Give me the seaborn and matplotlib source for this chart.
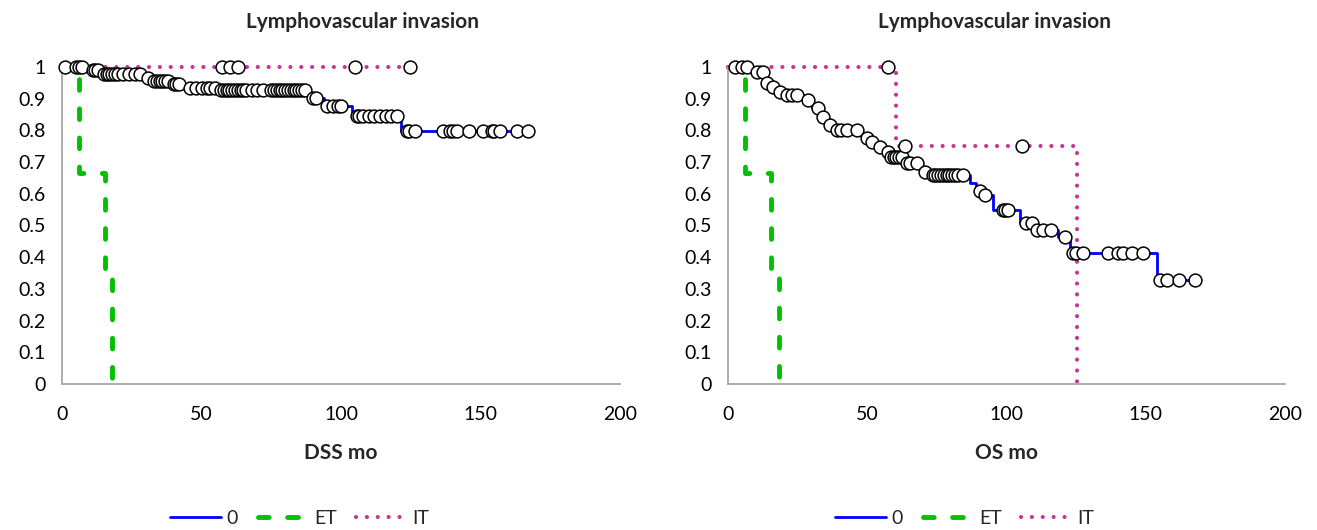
import numpy as np
import pandas as pd
import matplotlib
matplotlib.use("Agg")
import matplotlib.pyplot as plt
import seaborn as sns

# ========= DATOS =========
groups = ["0", "ET", "IT"]
x_ticks = [0, 50, 100, 150, 200]
y_ticks = [0, 0.1, 0.2, 0.3, 0.4, 0.5, 0.6, 0.7, 0.8, 0.9, 1.0]
y_tick_labels = ["0", "0.1", "0.2", "0.3", "0.4", "0.5", "0.6", "0.7", "0.8", "0.9", "1"]
title = "Lymphovascular invasion"

# DSS - step curves (time of drop, new survival) and censored times
dss_0_t = [0, 9, 14, 30, 32.5, 39, 45, 56, 88, 89.5, 94, 104, 121.5, 167.5]
dss_0_s = [1.0, 0.99, 0.977, 0.965, 0.955, 0.945, 0.935, 0.927, 0.915, 0.902, 0.878, 0.845, 0.797, 0.797]
dss_0_cens = [1, 5, 6, 7, 11, 12, 13, 15, 16, 17, 18, 19, 20, 22, 24, 26, 28, 31,
              33, 34, 35, 36, 37, 38, 40, 41, 42, 46, 48, 50, 52, 53, 55, 57, 58, 59,
              60, 61, 62, 63, 64, 65, 66, 68, 70, 72, 75, 76, 77, 78, 79, 80, 81, 82,
              83, 84, 85, 86, 87, 90, 91, 95, 97, 99, 100, 105.7, 106.5, 108, 110,
              112, 114, 116, 118, 120, 123.6, 124.5, 126.5, 136.5, 139, 140, 141.5,
              146, 150.8, 154, 155, 157, 163, 167]
dss_et_t = [0, 6, 15.5, 18, 18]
dss_et_s = [1.0, 0.667, 0.333, 0.0, 0.0]
dss_et_cens = []
dss_it_t = [0, 124.7]
dss_it_s = [1.0, 1.0]
dss_it_cens = [57.3, 60.2, 63, 105, 124.7]

# OS
os_0_t = [0, 9, 13.5, 15.5, 17.5, 20, 27, 30, 33.5, 35.5, 38, 48, 51, 53, 56, 58.5,
          64, 69, 72, 86.9, 89, 91.5, 95, 104.9, 110, 118.4, 122.8, 154, 168]
os_0_s = [1.0, 0.984, 0.95, 0.937, 0.921, 0.912, 0.896, 0.871, 0.842, 0.817, 0.801,
          0.776, 0.763, 0.748, 0.732, 0.716, 0.697, 0.669, 0.659, 0.635, 0.61, 0.596,
          0.549, 0.508, 0.486, 0.464, 0.413, 0.328, 0.328]
os_0_cens = [2.5, 5, 7, 10.4, 12.6, 14, 16.2, 18.7, 21.2, 23, 24.8, 28.7, 32.3, 34.1,
             36.6, 39.1, 40.5, 42.7, 46.3, 49.9, 51.7, 54.6, 57.4, 58.5, 59.5, 60.5,
             61.5, 62.5, 64.3, 65.5, 67.9, 70.7, 73.6, 74.5, 75.5, 76.5, 77.5, 78.5,
             79.5, 80.5, 81.5, 82.5, 84.4, 90.5, 92.3, 98.7, 99.5, 100.5, 107, 109,
             111, 113, 116, 121, 124, 125, 127.5, 136.5, 140, 142, 145, 149, 155,
             157.6, 162, 167.7]
os_et_t = [0, 6, 15.5, 18.3, 18.3]
os_et_s = [1.0, 0.667, 0.333, 0.0, 0.0]
os_et_cens = []
os_it_t = [0, 60.3, 125.3, 125.3]
os_it_s = [1.0, 0.75, 0.0, 0.0]
os_it_cens = [57.4, 63.5, 105.6]

panels = [
    {"xlabel": "DSS mo",
     "curves": {"0": (dss_0_t, dss_0_s, dss_0_cens),
                "ET": (dss_et_t, dss_et_s, dss_et_cens),
                "IT": (dss_it_t, dss_it_s, dss_it_cens)}},
    {"xlabel": "OS mo",
     "curves": {"0": (os_0_t, os_0_s, os_0_cens),
                "ET": (os_et_t, os_et_s, os_et_cens),
                "IT": (os_it_t, os_it_s, os_it_cens)}},
]

# ========= ESTILO =========
colors = {"0": "#0000FF", "ET": "#00C000", "IT": "#CC3399"}
widths = {"0": 2.0, "ET": 3.5, "IT": 3.0}
dashes = {"0": "", "ET": (2.2, 3.8), "IT": (0.01, 2.6)}
caps = {"0": "butt", "ET": "round", "IT": "round"}
GRAY = "#A6A6A6"

sns.set_style("white")
plt.rcParams["font.family"] = ["Lato", "DejaVu Sans"]

fig = plt.figure(figsize=(13.17, 5.30), dpi=100)
W, H = 1317, 530
axes_px = [(62, 620), (728, 1285)]
title_cx = [363, 995]
legend_cx = [300, 965]


def surv_at(t_arr, s_arr, t):
    i = np.searchsorted(np.asarray(t_arr), t, side="right") - 1
    return np.asarray(s_arr)[max(i, 0)]


for k, panel in enumerate(panels):
    x0, x1 = axes_px[k]
    ax = fig.add_axes([x0 / W, 1 - 384 / H, (x1 - x0) / W, 317 / H])

    # curvas escalonadas
    for g in groups:
        t, s, cens = panel["curves"][g]
        df = pd.DataFrame({"time": t, "surv": s})
        sns.lineplot(data=df, x="time", y="surv", ax=ax, estimator=None, sort=False,
                     drawstyle="steps-post", color=colors[g], lw=widths[g],
                     dashes=False, zorder=2, clip_on=False)
        line = ax.lines[-1]
        if dashes[g]:
            line.set_dashes(dashes[g])
        line.set_dash_capstyle(caps[g])
        line.set_solid_capstyle("butt")

    # censurados
    for g in groups:
        t, s, cens = panel["curves"][g]
        if not cens:
            continue
        cdf = pd.DataFrame({"time": cens, "surv": [surv_at(t, s, c) for c in cens]})
        sns.scatterplot(data=cdf, x="time", y="surv", ax=ax, s=85, marker="o",
                        facecolor="white", edgecolor="black", linewidth=1.1,
                        zorder=4, clip_on=False, legend=False)

    ax.set_xlim(0, 200)
    ax.set_ylim(0, 1)
    ax.set_xticks(x_ticks)
    ax.set_xticklabels([str(v) for v in x_ticks])
    ax.set_yticks(y_ticks)
    ax.set_yticklabels(y_tick_labels)
    ax.set_xlabel("")
    ax.set_ylabel("")
    for side in ["top", "right"]:
        ax.spines[side].set_visible(False)
    for side in ["left", "bottom"]:
        ax.spines[side].set_color(GRAY)
        ax.spines[side].set_linewidth(1.3)
    ax.tick_params(axis="both", direction="inout", length=11, width=1.3,
                   color=GRAY, labelsize=14, labelcolor="black")
    ax.tick_params(axis="x", pad=10)
    ax.tick_params(axis="y", pad=6)
    ax.patch.set_alpha(0)

    fig.text(title_cx[k] / W, 1 - 22 / H, title, ha="center", va="center",
             fontsize=15, fontweight="bold")
    fig.text((x0 + x1) / 2 / W, 1 - 453 / H, panel["xlabel"], ha="center",
             va="center", fontsize=15, fontweight="bold")

    handles = []
    for g in groups:
        h = plt.Line2D([], [], color=colors[g], lw=widths[g])
        if dashes[g]:
            h.set_dashes(dashes[g])
        h.set_dash_capstyle(caps[g])
        handles.append(h)
    fig.legend(handles, groups, loc="center", ncol=3, frameon=False,
               bbox_to_anchor=(legend_cx[k] / W, 1 - 518 / H), fontsize=14,
               handlelength=2.6, handletextpad=0.3, columnspacing=1.0)

fig.savefig("out.png", dpi=100)
